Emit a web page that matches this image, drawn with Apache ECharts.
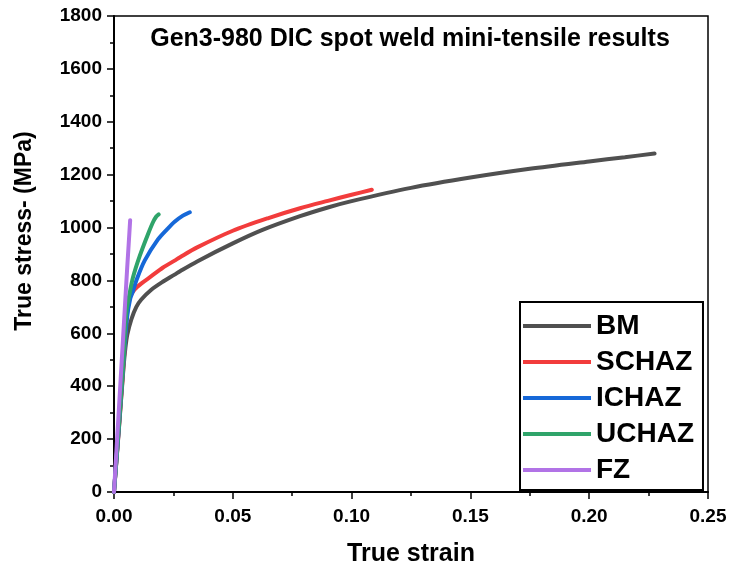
<!DOCTYPE html>
<html>
<head>
<meta charset="utf-8">
<script src="https://cdn.jsdelivr.net/npm/echarts@6/dist/echarts.min.js"></script>
<style>
html,body{margin:0;padding:0;background:#fff;}
#c{width:730px;height:572px;}
</style>
</head>
<body>
<div id="c"></div>
<script>
var seriesNames = ['BM', 'SCHAZ', 'ICHAZ', 'UCHAZ', 'FZ'];
var seriesColors = ['#505050', '#f23c3c', '#1668d8', '#2fa46a', '#b173e6'];

var strainBM = [0, 0.002, 0.004, 0.0048, 0.0056, 0.0073, 0.0094, 0.0115, 0.0157, 0.0205, 0.0255, 0.0278, 0.035, 0.05, 0.0625, 0.0783, 0.09, 0.1, 0.125, 0.15, 0.175, 0.2, 0.215, 0.2275];
var stressBM = [0, 230, 470, 545, 595, 653, 700, 728, 765, 795, 822, 835, 872, 940, 991, 1043, 1076, 1100, 1150, 1189, 1222, 1250, 1266, 1280];

var strainSCHAZ = [0, 0.002, 0.004, 0.0052, 0.0058, 0.0068, 0.0087, 0.012, 0.0157, 0.0205, 0.0255, 0.0278, 0.035, 0.05, 0.065, 0.0783, 0.09, 0.1, 0.1085];
var stressSCHAZ = [0, 235, 480, 640, 700, 738, 766, 792, 816, 848, 875, 888, 925, 988, 1036, 1073, 1101, 1124, 1143];

var strainICHAZ = [0, 0.002, 0.004, 0.0055, 0.0068, 0.008, 0.0094, 0.0129, 0.0185, 0.0225, 0.0255, 0.029, 0.0319];
var stressICHAZ = [0, 240, 490, 660, 730, 760, 800, 875, 955, 995, 1022, 1045, 1058];

var strainUCHAZ = [0, 0.002, 0.004, 0.0052, 0.0066, 0.008, 0.0108, 0.0143, 0.0165, 0.0178, 0.0188];
var stressUCHAZ = [0, 245, 500, 680, 752, 812, 892, 975, 1022, 1042, 1050];

var strainFZ = [0, 0.002, 0.004, 0.0055, 0.0062, 0.0068];
var stressFZ = [0, 305, 610, 840, 940, 1028];

var xTicks = [0, 0.05, 0.10, 0.15, 0.20, 0.25];
var yTicks = [0, 200, 400, 600, 800, 1000, 1200, 1400, 1600, 1800];

function pairs(xs, ys) {
  var out = [];
  for (var i = 0; i < xs.length; i++) out.push([xs[i], ys[i]]);
  return out;
}
var allStrain = [strainBM, strainSCHAZ, strainICHAZ, strainUCHAZ, strainFZ];
var allStress = [stressBM, stressSCHAZ, stressICHAZ, stressUCHAZ, stressFZ];

var FONT = '"Liberation Sans", Arial, sans-serif';
var chart = echarts.init(document.getElementById('c'), null, {renderer: 'canvas'});

var series = seriesNames.map(function (n, i) {
  return {
    name: n,
    type: 'line',
    data: pairs(allStrain[i], allStress[i]),
    showSymbol: false,
    smooth: 0.3,
    lineStyle: {width: 4, color: seriesColors[i], cap: 'round'},
    itemStyle: {color: seriesColors[i]},
    emphasis: {disabled: true},
    animation: false
  };
});

chart.setOption({
  backgroundColor: '#ffffff',
  animation: false,
  title: {
    text: 'Gen3-980 DIC spot weld mini-tensile results',
    left: 405,
    textAlign: 'center',
    top: 22,
    textStyle: {fontFamily: FONT, fontWeight: 'bold', fontSize: 25, color: '#000'}
  },
  grid: {
    left: 114, right: 22, top: 16, bottom: 79,
    show: true, borderColor: '#000', borderWidth: 1.5, backgroundColor: 'transparent'
  },
  legend: {
    data: seriesNames,
    orient: 'vertical',
    left: 520,
    top: 302,
    icon: 'rect',
    itemWidth: 68,
    itemHeight: 4,
    itemGap: 8,
    padding: [10, 9, 6, 3],
    borderColor: '#000',
    borderWidth: 2,
    backgroundColor: '#fff',
    textStyle: {fontFamily: FONT, fontWeight: 'bold', fontSize: 28, lineHeight: 26, color: '#000'}
  },
  xAxis: {
    type: 'value',
    min: 0, max: 0.25, interval: 0.05,
    name: 'True strain',
    nameLocation: 'middle',
    nameGap: 50,
    nameTextStyle: {fontFamily: FONT, fontWeight: 'bold', fontSize: 25, color: '#000'},
    axisLine: {show: true, onZero: false, lineStyle: {color: '#000', width: 2}},
    axisTick: {show: true, inside: false, length: 7, lineStyle: {color: '#000', width: 1.5}},
    minorTick: {show: true, splitNumber: 2, length: 4, lineStyle: {color: '#000', width: 1.5}},
    splitLine: {show: false},
    axisLabel: {
      margin: 15,
      fontFamily: FONT, fontWeight: 'bold', fontSize: 19, color: '#000',
      formatter: function (v) { return v.toFixed(2); }
    }
  },
  yAxis: {
    type: 'value',
    min: 0, max: 1800, interval: 200,
    name: 'True stress- (MPa)',
    nameLocation: 'middle',
    nameGap: 78,
    nameTextStyle: {fontFamily: FONT, fontWeight: 'bold', fontSize: 23, color: '#000', padding: [0, 0, 0, 46]},
    axisLine: {show: true, onZero: false, lineStyle: {color: '#000', width: 2}},
    axisTick: {show: true, inside: false, length: 7, lineStyle: {color: '#000', width: 1.5}},
    minorTick: {show: true, splitNumber: 2, length: 4, lineStyle: {color: '#000', width: 1.5}},
    splitLine: {show: false},
    axisLabel: {
      margin: 12,
      fontFamily: FONT, fontWeight: 'bold', fontSize: 19, color: '#000',
      formatter: function (v) { return String(v); }
    }
  },
  series: series
});
</script>
</body>
</html>
